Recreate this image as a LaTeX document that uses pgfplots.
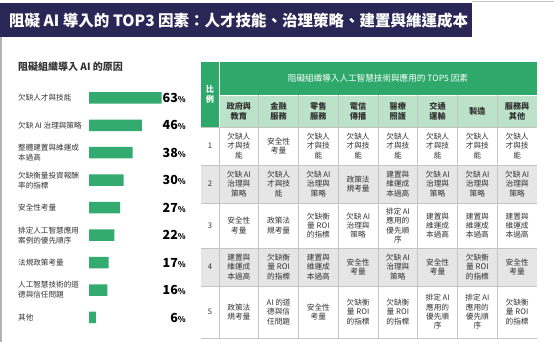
\documentclass[border=0pt]{standalone}
\usepackage{pgfplots}
\pgfplotsset{compat=1.18}
\usepackage{fontspec}
\setmainfont{Noto Sans CJK TC}
\definecolor{navy}{HTML}{2A2656}
\definecolor{hdrgreen}{HTML}{2EA96B}
\definecolor{bargreen}{HTML}{33AA70}
\definecolor{subgreen}{HTML}{BCE3C9}
\definecolor{rowgray}{HTML}{E6E6E6}
\definecolor{txt}{HTML}{333333}
\definecolor{linegray}{HTML}{C4C4C4}
\newcommand\cfont{\fontsize{7.7}{9.3}\selectfont}
\newcommand\hfont{\fontsize{8.2}{9.8}\selectfont\bfseries}
\newcommand\lfont{\fontsize{7.6}{10}\selectfont}
\newcommand\cell[3]{\node[align=center,font=\cfont,text=txt,inner sep=0] at ({219+39.75*(#1-0.5)},#2) {#3};}
\newcommand\hcell[2]{\node[align=center,font=\hfont,text=txt,inner sep=0] at ({219+39.75*(#1-0.5)},111) {#2};}
\newcommand\lab[2]{\node[anchor=west,align=left,font=\lfont,text=txt,inner sep=0] at (18,{97.8+27.46*#1}) {#2};}
\newcommand\pct[2]{\node[anchor=east,inner sep=0,text=black] at (186,{97.8+27.46*#1}) {{\fontsize{12.5}{13}\selectfont\bfseries #2}{\fontsize{8}{9}\selectfont\bfseries\%}};}
\begin{document}
\begin{tikzpicture}
\begin{scope}[x=1pt,y=-1pt,yshift=342pt]
 % title banner
 \fill[navy] (0,3) rectangle (472,37);
 \node[anchor=west,text=white,font=\fontsize{15.5}{16}\selectfont\bfseries,inner sep=0] at (9,20.5) {阻礙 AI 導入的 TOP3 因素：人才技能、治理策略、建置與維運成本};
 \draw[linegray, line width=1pt] (472,1.5) -- (554,1.5);
 \draw[gray!60, line width=1.6pt] (1,37) -- (1,342);
 % left heading
 \node[anchor=west, text=txt, font=\fontsize{10}{12}\selectfont\bfseries, inner sep=0] at (18,67) {阻礙組織導入 AI 的原因};
 \lab{0}{欠缺人才與技能}
 \lab{1}{欠缺 AI 治理與策略}
 \lab{2}{整體建置與維運成\\本過高}
 \lab{3}{欠缺衡量投資報酬\\率的指標}
 \lab{4}{安全性考量}
 \lab{5}{排定人工智慧應用\\案例的優先順序}
 \lab{6}{法規政策考量}
 \lab{7}{人工智慧技術的道\\德與信任問題}
 \lab{8}{其他}
 \pct{0}{63}\pct{1}{46}\pct{2}{38}\pct{3}{30}\pct{4}{27}\pct{5}{22}\pct{6}{17}\pct{7}{16}\pct{8}{6}
 % table backgrounds
 \fill[hdrgreen] (201,62) rectangle (537,95);
 \fill[hdrgreen] (201,95) rectangle (219,127);
 \fill[subgreen] (219,95) rectangle (537,127);
 \fill[rowgray] (201,165) rectangle (537,203);
 \fill[rowgray] (201,248) rectangle (537,286);
 % lines
 \foreach \yy in {127,165,203,248,286,338} {\draw[linegray,line width=0.8pt] (201,\yy) -- (537,\yy);}
 \draw[white,line width=0.8pt] (219,95) -- (537,95);
 \draw[white,line width=0.8pt] (219,62) -- (219,127);
 \draw[linegray,line width=0.8pt] (219,127) -- (219,338);
 \foreach \k in {1,...,7} {\draw[linegray,line width=0.8pt] ({219+39.75*\k},95) -- ({219+39.75*\k},338);}
 % header texts
 \node[text=white,font=\fontsize{8.6}{10}\selectfont,inner sep=0] at (378,78.5) {阻礙組織導入人工智慧技術與應用的 TOP5 因素};
 \node[text=white,font=\hfont,align=center,inner sep=0] at (210,94) {比\\例};
 \hcell{1}{政府與\\教育}
 \hcell{2}{金融\\服務}
 \hcell{3}{零售\\服務}
 \hcell{4}{電信\\傳播}
 \hcell{5}{醫療\\照護}
 \hcell{6}{交通\\運輸}
 \hcell{7}{製造}
 \hcell{8}{服務與\\其他}
 % row numbers
 \foreach \n/\yy in {1/146,2/184,3/225.5,4/267,5/312} {\node[font=\cfont,text=txt,inner sep=0] at (210,\yy) {\n};}
 % row 1
 \cell{1}{146}{欠缺人\\才與技\\能}
 \cell{2}{146}{安全性\\考量}
 \cell{3}{146}{欠缺人\\才與技\\能}
 \cell{4}{146}{欠缺人\\才與技\\能}
 \cell{5}{146}{欠缺人\\才與技\\能}
 \cell{6}{146}{欠缺人\\才與技\\能}
 \cell{7}{146}{欠缺人\\才與技\\能}
 \cell{8}{146}{欠缺人\\才與技\\能}
 % row 2
 \cell{1}{184}{欠缺 AI\\治理與\\策略}
 \cell{2}{184}{欠缺人\\才與技\\能}
 \cell{3}{184}{欠缺 AI\\治理與\\策略}
 \cell{4}{184}{政策法\\規考量}
 \cell{5}{184}{建置與\\維運成\\本過高}
 \cell{6}{184}{欠缺 AI\\治理與\\策略}
 \cell{7}{184}{欠缺 AI\\治理與\\策略}
 \cell{8}{184}{欠缺 AI\\治理與\\策略}
 % row 3
 \cell{1}{225.5}{安全性\\考量}
 \cell{2}{225.5}{政策法\\規考量}
 \cell{3}{225.5}{欠缺衡\\量 ROI\\的指標}
 \cell{4}{225.5}{欠缺 AI\\治理與\\策略}
 \cell{5}{225.5}{排定 AI\\應用的\\優先順\\序}
 \cell{6}{225.5}{建置與\\維運成\\本過高}
 \cell{7}{225.5}{建置與\\維運成\\本過高}
 \cell{8}{225.5}{建置與\\維運成\\本過高}
 % row 4
 \cell{1}{267}{建置與\\維運成\\本過高}
 \cell{2}{267}{欠缺衡\\量 ROI\\的指標}
 \cell{3}{267}{建置與\\維運成\\本過高}
 \cell{4}{267}{安全性\\考量}
 \cell{5}{267}{欠缺 AI\\治理與\\策略}
 \cell{6}{267}{安全性\\考量}
 \cell{7}{267}{欠缺衡\\量 ROI\\的指標}
 \cell{8}{267}{安全性\\考量}
 % row 5
 \cell{1}{312}{政策法\\規考量}
 \cell{2}{312}{AI 的道\\德與信\\任問題}
 \cell{3}{312}{安全性\\考量}
 \cell{4}{312}{欠缺衡\\量 ROI\\的指標}
 \cell{5}{312}{欠缺衡\\量 ROI\\的指標}
 \cell{6}{312}{排定 AI\\應用的\\優先順\\序}
 \cell{7}{312}{排定 AI\\應用的\\優先順\\序}
 \cell{8}{312}{欠缺衡\\量 ROI\\的指標}
\end{scope}
\begin{axis}[at={(89pt,257.93pt)}, anchor=north west, width=72.5pt, height=247.14pt, scale only axis,
  xmin=0, xmax=63, ymin=-0.5, ymax=8.5, y dir=reverse, hide axis, clip=false,
  xbar, bar width=11.5pt]
 \addplot[fill=bargreen, draw=none] coordinates {(63,0) (46,1) (38,2) (30,3) (27,4) (22,5) (17,6) (16,7) (6,8)};
\end{axis}
\pgfresetboundingbox
\path[use as bounding box] (0,0) rectangle (554pt,342pt);
\end{tikzpicture}
\end{document}
